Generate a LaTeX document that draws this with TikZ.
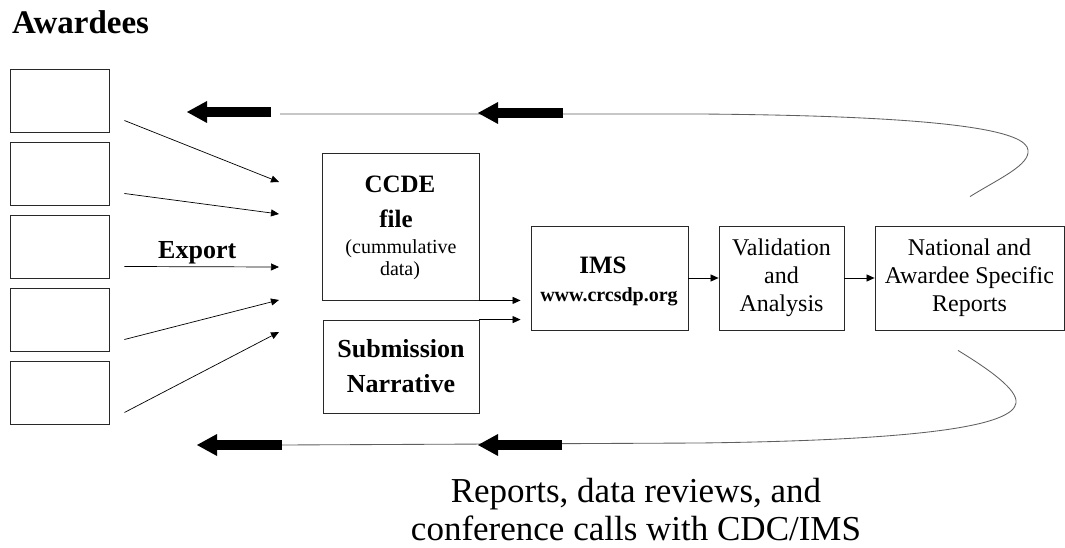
\documentclass[tikz,border=0pt]{standalone}
\usepackage{fontspec}
\setmainfont{Liberation Serif}
\usetikzlibrary{arrows.meta}
\usetikzlibrary{calc}
\tikzset{>={Triangle[length=8pt,width=7pt]}}
\definecolor{boxgray}{RGB}{40,40,40}
\definecolor{loopgray}{RGB}{95,95,95}
\tikzstyle{awbox}=[draw=boxgray,line width=0.3mm,minimum width=99pt,minimum height=63pt,inner sep=0pt]
\tikzstyle{flowbox}=[draw=boxgray,line width=0.3mm,inner sep=0pt,align=center]
\tikzstyle{thinarrow}=[->,draw=black,line width=0.25mm]
\tikzstyle{loopline}=[draw=loopgray,line width=0.3mm]
\tikzstyle{bigarrow}=[-{Triangle[length=20pt,width=22pt,line width=0pt]},line width=10pt]
\tikzstyle{boldlabel}=[inner sep=0pt,anchor=base,font=\bfseries\fontsize{25}{28}\selectfont]
\tikzstyle{smalllabel}=[inner sep=0pt,anchor=base,font=\fontsize{20}{24}\selectfont]

\begin{document}
\begin{tikzpicture}[x=1pt,y=-1pt]
  \useasboundingbox (0,0) rectangle (1065,548);
  \node[anchor=base west,inner sep=0pt,font=\bfseries\fontsize{33}{36}\selectfont] (awtitle) at (12,34) {Awardees};

  % awardee boxes and export arrows
  \foreach \i/\y in {1/182,2/214,3/267,4/300,5/332} {
    \node[awbox] (aw\i) at (59.5,{27.5+73*\i}) {};
    \coordinate (in\i) at (279,\y);
    \draw[thinarrow] ($(aw\i.east)+(15,20)$) -- (in\i);
  }
  \node[anchor=base west,inner sep=0pt,font=\bfseries\fontsize{26}{28}\selectfont] (export) at (158,258) {Export};

  % data boxes
  \node[flowbox,minimum width=157pt,minimum height=147pt] (ccde) at (400.5,226.5) {};
  \node[boldlabel] (ccdetitle) at (400,193) {CCDE};
  \node[boldlabel] (ccdefile) at (396,227) {file};
  \node[smalllabel] (ccdecum) at (401,253) {(cummulative};
  \node[smalllabel] (ccdedata) at (400,275) {data)};
  \node[flowbox,minimum width=156pt,minimum height=93pt,font=\bfseries\fontsize{26}{35}\selectfont] (subm) at (401,366.5) {Submission\\Narrative};

  \node[flowbox,minimum width=157pt,minimum height=104pt] (ims) at (609.5,278) {};
  \node[boldlabel] (imstitle) at (603,273) {IMS};
  \node[inner sep=0pt,anchor=base,font=\bfseries\fontsize{20}{24}\selectfont] (imsweb) at (609,301) {www.crcsdp.org};
  \node[flowbox,minimum width=125pt,minimum height=104pt,font=\fontsize{24}{28}\selectfont] (valid) at (781.5,278) {Validation\\and\\Analysis};
  \node[flowbox,minimum width=189pt,minimum height=104pt,font=\fontsize{24}{28}\selectfont] (rep) at (969.5,278) {National and\\Awardee Specific\\Reports};

  \draw[thinarrow,shorten >=10pt] (ccde.south east) -- (ims.west |- ccde.south east);
  \draw[thinarrow,shorten >=10pt] (subm.north east) -- (ims.west |- subm.north east);
  \draw[thinarrow] (ims) -- (valid);
  \draw[thinarrow] (valid) -- (rep);

  % feedback loops
  \coordinate (topstart) at ($(rep.north)+(0.5,-29)$);
  \coordinate (botstart) at ($(rep.south)+(-11.5,20)$);
  \draw[loopline] (topstart) .. controls (1000,178) and (1030,165) .. (1028,150)
    .. controls (1026,132) and (960,116) .. (700,114) -- (280,114);
  \draw[loopline] (botstart) .. controls (990,370) and (1018,390) .. (1016,403)
    .. controls (1013,425) and (930,440) .. (700,443) -- (282,445);
  \draw[bigarrow] (563,113) -- (478,113);
  \draw[bigarrow] (271,112) -- (187,112);
  \draw[bigarrow] (562,445) -- (478,445);
  \draw[bigarrow] (282,445) -- (197,445);

  \node[anchor=north,inner sep=0pt,align=center,font=\fontsize{35}{38}\selectfont] (calls) at (636,478) {Reports, data reviews, and\\conference calls with CDC/IMS};
\end{tikzpicture}
\end{document}
